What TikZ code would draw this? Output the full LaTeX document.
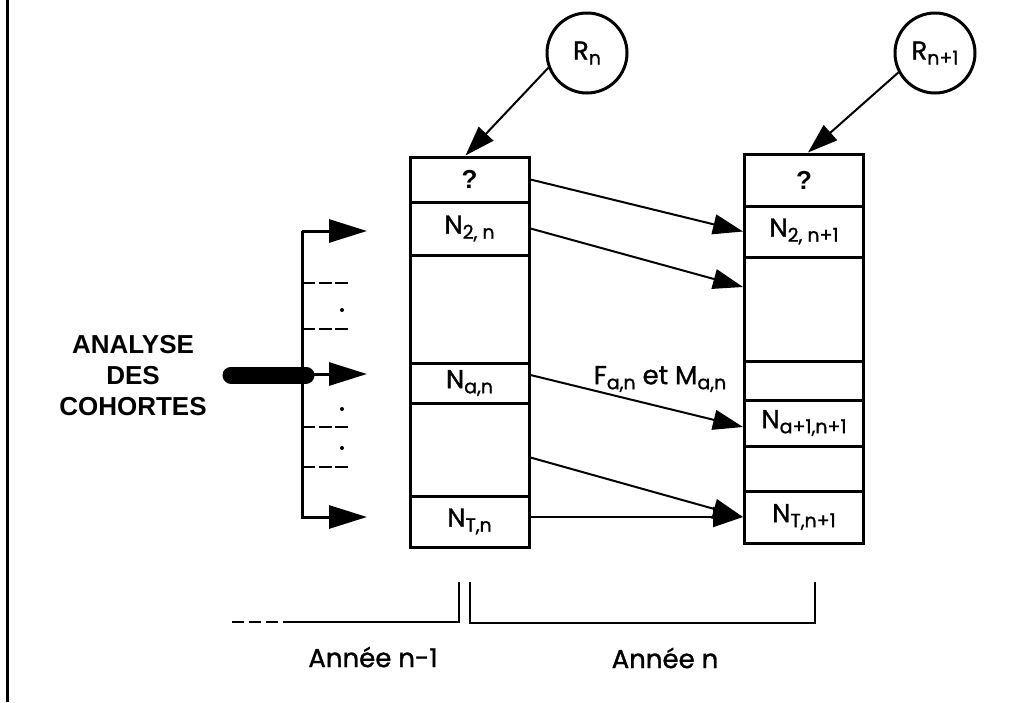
\documentclass[tikz,border=0pt]{standalone}
\usepackage{fontspec}
\setmainfont{Poppins}[FakeBold=1.2]
\newfontfamily\helvfont{Liberation Sans}
\usetikzlibrary{arrows.meta}
\newcommand\idx[1]{\raisebox{-2.5pt}{\fontsize{9.5}{10}\selectfont #1}}

\begin{document}
\begin{tikzpicture}[x=0.5pt, y=-0.5pt,
  cell/.style={draw, line width=1.5pt, minimum width=59.5pt, inner sep=0pt, font=\fontsize{13}{15}\selectfont},
  ring/.style={draw, circle, line width=1.5pt, minimum size=40pt, inner sep=0pt, font=\fontsize{13}{15}\selectfont},
  link/.style={line width=1pt, -{Triangle[length=15pt, width=10pt]}},
  feed/.style={line width=1.5pt, -{Triangle[length=19pt, width=11.5pt]}},
  year/.style={font=\fontsize{13}{15}\selectfont}]
  \useasboundingbox (0,0) rectangle (1018,702);
  \draw[line width=1.5pt] (7,0) -- (7,702);

  % annee n
  \node[cell, minimum height=22.5pt] (q1) at (469.5,179.5) {\helvfont\bfseries ?};
  \node[cell, minimum height=26.5pt] (a2) at (469.5,228.5) {N\idx{2, n}};
  \node[cell, minimum height=54pt] (b1) at (469.5,309) {};
  \node[cell, minimum height=20pt] (aa) at (469.5,383) {N\idx{a,n}};
  \node[cell, minimum height=46.5pt] (b2) at (469.5,449.5) {};
  \node[cell, minimum height=25.5pt] (aT) at (469.5,521.5) {N\idx{T,n}};

  % annee n+1
  \node[cell, minimum height=26pt] (p1) at (804,180) {\helvfont\bfseries ?};
  \node[cell, minimum height=25.5pt] (p2) at (804,231.5) {N\idx{2, n+1}};
  \node[cell, minimum height=52pt] (p3) at (804,309) {};
  \node[cell, minimum height=19.5pt] (p4) at (804,380.5) {};
  \node[cell, minimum height=23pt] (p5) at (804,423) {N\idx{a+1,n+1}};
  \node[cell, minimum height=22.5pt] (p6) at (804,468.5) {};
  \node[cell, minimum height=26pt] (p7) at (804,517) {N\idx{T,n+1}};

  % recrutements
  \node[ring] (rn) at (587,53) {R\idx{n}};
  \node[ring] (rm) at (935,53) {R\idx{n+1}};
  \draw[link] (rn.201) -- ([xshift=-2pt]q1.north);
  \draw[link] (rm.208) -- ([xshift=2pt]p1.north);

  % passage d'une annee a l'autre
  \draw[link] (q1.east) -- (p2.west);
  \draw[link] (a2.east) -- ([yshift=11pt]p3.west);
  \draw[link] ([yshift=4pt]aa.east) -- ([yshift=-2pt]p5.west);
  \draw[link] ([yshift=-4pt]b2.east) -- (p7.west);
  \draw[link] ([yshift=2.25pt]aT.east) -- (p7.west);
  \node[year] (rate) at (660,379) {F\idx{a,n} et M\idx{a,n}};

  % analyse des cohortes
  \node[font=\helvfont\bfseries\fontsize{13}{15.5}\selectfont, align=center] (cohort) at (133,376) {ANALYSE\\DES\\COHORTES};
  \coordinate (t1) at (302,231);
  \coordinate (t2) at (302,374);
  \coordinate (t3) at (302,519);
  \coordinate (h1) at (367,231);
  \coordinate (h2) at (367,374);
  \coordinate (h3) at (367,517);
  \draw[line width=1.5pt] (t1) -- (t3);
  \draw[line width=8.5pt, line cap=round] (231,375) -- (306,375);
  \draw[feed] (t1) -- (h1);
  \draw[feed] (t2) -- (h2);
  \draw[feed] (302,517) -- (h3);
  \foreach \y in {283,329,427,467}
    \draw[line width=1pt, dash pattern=on 6.5pt off 1.75pt] (302,\y) -- (348,\y);
  \foreach \y in {310,409,448}
    \fill (342,\y) circle (1pt);

  % echelle des annees
  \draw[line width=1pt, dash pattern=on 6pt off 2.5pt] (232,622) -- (285,622);
  \draw[line width=1pt] (285,622) -- (459,622) -- (459,582);
  \draw[line width=1pt] (470,582) -- (470,623) -- (815,623) -- (815,582);
  \node[year] (yprev) at (373,657) {Année n-1};
  \node[year] (ycur) at (665,658) {Année n};
\end{tikzpicture}
\end{document}
